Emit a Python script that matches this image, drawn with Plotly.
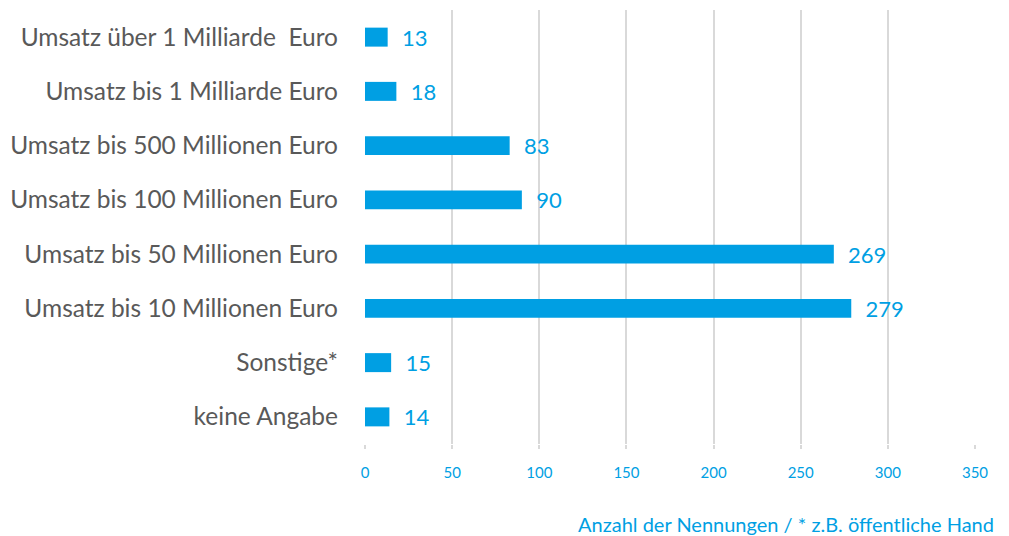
import plotly.graph_objects as go

categories = [
    "Umsatz über 1 Milliarde  Euro",
    "Umsatz bis 1 Milliarde Euro",
    "Umsatz bis 500 Millionen Euro",
    "Umsatz bis 100 Millionen Euro",
    "Umsatz bis 50 Millionen Euro",
    "Umsatz bis 10 Millionen Euro",
    "Sonstige*",
    "keine Angabe",
]
values = [13, 18, 83, 90, 269, 279, 15, 14]
tick_values = [0, 50, 100, 150, 200, 250, 300, 350]
axis_title = "Anzahl der Nennungen / * z.B. öffentliche Hand"

BLUE = "#009FE3"
GREY = "#595959"
GRID = "#D9D9D9"

fig = go.Figure()
fig.add_bar(
    x=values,
    y=categories,
    orientation="h",
    marker=dict(color=BLUE, line=dict(width=0)),
    width=0.35,
    text=values,
    texttemplate="  %{x}",
    textposition="outside",
    constraintext="none",
    cliponaxis=False,
    textfont=dict(family="Lato", size=22, color=BLUE),
)

# page body has an 8px margin, so the figure is a bit smaller than the window
fig.update_layout(
    width=1001,
    height=528,
    margin=dict(l=357, r=34, t=2, b=92),
    paper_bgcolor="white",
    plot_bgcolor="white",
    showlegend=False,
    font=dict(family="Lato"),
    xaxis=dict(
        range=[0, 350],
        tickvals=tick_values,
        showgrid=True,
        gridcolor=GRID,
        gridwidth=2,
        zeroline=False,
        ticks="outside",
        ticklen=4,
        tickcolor=GRID,
        tickwidth=2,
        ticklabelstandoff=11,
        tickfont=dict(family="Lato", size=15, color=BLUE),
    ),
    yaxis=dict(
        autorange="reversed",
        showgrid=False,
        zeroline=False,
        ticks="",
        ticklabelstandoff=26,
        tickfont=dict(family="Lato", size=24.5, color=GREY),
    ),
    annotations=[
        dict(
            text=axis_title,
            xref="paper",
            yref="paper",
            x=1,
            y=0,
            xshift=21,
            yshift=-80,
            xanchor="right",
            yanchor="middle",
            showarrow=False,
            font=dict(family="Lato", size=20, color=BLUE),
        )
    ],
)

fig.write_html("out.html")
